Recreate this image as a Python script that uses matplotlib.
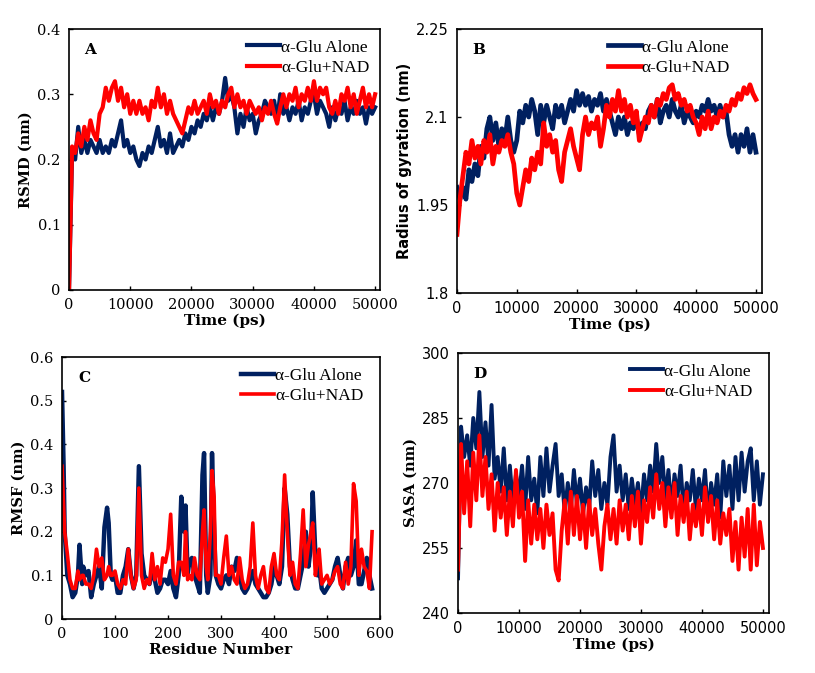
import matplotlib.pyplot as plt
import numpy as np

# time axis (ps) shared by RMSD, Rg and SASA traces
time_ps = np.arange(0, 50001, 500)

rmsd_alone = [0.00, 0.21, 0.20, 0.25, 0.21, 0.23, 0.21, 0.23, 0.22, 0.21,
              0.23, 0.21, 0.22, 0.21, 0.23, 0.22, 0.24, 0.26, 0.22, 0.23,
              0.21, 0.22, 0.20, 0.19, 0.21, 0.20, 0.22, 0.21, 0.23, 0.25,
              0.22, 0.23, 0.21, 0.24, 0.21, 0.22, 0.23, 0.22, 0.24, 0.23,
              0.25, 0.24, 0.26, 0.25, 0.27, 0.26, 0.28, 0.26, 0.28, 0.27,
              0.29, 0.325, 0.29, 0.30, 0.28, 0.24, 0.27, 0.25, 0.28, 0.26,
              0.27, 0.24, 0.26, 0.27, 0.29, 0.28, 0.27, 0.29, 0.26, 0.30,
              0.27, 0.28, 0.26, 0.28, 0.27, 0.29, 0.26, 0.28, 0.27, 0.29,
              0.30, 0.27, 0.29, 0.28, 0.27, 0.25, 0.28, 0.26, 0.28, 0.27,
              0.29, 0.26, 0.28, 0.27, 0.29, 0.27, 0.28, 0.255, 0.28, 0.27,
              0.28]
rmsd_nad = [0.00, 0.22, 0.21, 0.24, 0.22, 0.25, 0.23, 0.26, 0.24, 0.23,
            0.27, 0.28, 0.31, 0.29, 0.31, 0.32, 0.29, 0.31, 0.28, 0.30,
            0.27, 0.29, 0.27, 0.29, 0.27, 0.28, 0.26, 0.29, 0.28, 0.31,
            0.28, 0.30, 0.27, 0.29, 0.27, 0.26, 0.25, 0.24, 0.26, 0.28,
            0.27, 0.29, 0.27, 0.28, 0.29, 0.27, 0.30, 0.28, 0.29, 0.27,
            0.29, 0.28, 0.30, 0.31, 0.28, 0.30, 0.28, 0.29, 0.27, 0.29,
            0.28, 0.27, 0.28, 0.26, 0.28, 0.27, 0.29, 0.27, 0.255, 0.28,
            0.30, 0.28, 0.30, 0.29, 0.31, 0.28, 0.30, 0.29, 0.31, 0.29,
            0.32, 0.29, 0.31, 0.30, 0.31, 0.28, 0.27, 0.29, 0.27, 0.30,
            0.29, 0.31, 0.28, 0.30, 0.27, 0.29, 0.31, 0.28, 0.30, 0.28,
            0.30]

rg_alone = [1.98, 1.96, 1.98, 1.96, 2.01, 1.99, 2.02, 2.00, 2.05, 2.03,
            2.08, 2.10, 2.06, 2.09, 2.05, 2.08, 2.06, 2.10, 2.06, 2.04,
            2.06, 2.11, 2.09, 2.12, 2.10, 2.13, 2.11, 2.07, 2.12, 2.09,
            2.12, 2.10, 2.08, 2.12, 2.10, 2.12, 2.09, 2.11, 2.13, 2.11,
            2.145, 2.12, 2.14, 2.12, 2.135, 2.11, 2.13, 2.12, 2.14, 2.11,
            2.13, 2.11, 2.09, 2.07, 2.10, 2.08, 2.10, 2.07, 2.09, 2.08,
            2.10, 2.07, 2.09, 2.08, 2.11, 2.12, 2.10, 2.13, 2.09, 2.11,
            2.12, 2.10, 2.13, 2.11, 2.10, 2.12, 2.09, 2.11, 2.10, 2.09,
            2.11, 2.10, 2.12, 2.11, 2.13, 2.11, 2.12, 2.10, 2.12, 2.10,
            2.11, 2.07, 2.05, 2.07, 2.04, 2.07, 2.05, 2.08, 2.04, 2.07,
            2.04]
rg_nad = [1.90, 1.96, 2.00, 2.04, 2.02, 2.06, 2.03, 2.05, 2.02, 2.06,
          2.04, 2.07, 2.02, 2.05, 2.04, 2.06, 2.05, 2.07, 2.04, 2.02,
          1.97, 1.95, 1.98, 2.01, 1.99, 2.03, 2.01, 2.04, 2.02, 2.09,
          2.05, 2.07, 2.04, 2.06, 2.01, 1.99, 2.04, 2.06, 2.08, 2.05,
          2.03, 2.01, 2.07, 2.10, 2.07, 2.09, 2.08, 2.10, 2.05, 2.08,
          2.12, 2.10, 2.13, 2.11, 2.145, 2.11, 2.13, 2.10, 2.12, 2.09,
          2.11, 2.06, 2.08, 2.10, 2.09, 2.12, 2.10, 2.13, 2.12, 2.14,
          2.13, 2.15, 2.155, 2.13, 2.14, 2.12, 2.13, 2.11, 2.12, 2.10,
          2.09, 2.07, 2.10, 2.08, 2.11, 2.08, 2.10, 2.09, 2.11, 2.10,
          2.12, 2.11, 2.13, 2.12, 2.14, 2.13, 2.15, 2.14, 2.155, 2.14,
          2.13]

# RMSF per residue
residue = [0, 3, 5, 10, 15, 20, 25, 30, 33, 38, 40, 45, 50, 55, 60, 65, 70,
           75, 80, 85, 88, 92, 95, 100, 105, 110, 115, 120, 125, 130, 135,
           140, 145, 150, 155, 160, 165, 170, 175, 180, 185, 190, 195, 200,
           205, 210, 215, 220, 225, 230, 233, 237, 240, 245, 250, 255, 260,
           265, 268, 272, 275, 280, 283, 287, 290, 295, 300, 305, 310, 315,
           320, 325, 330, 335, 340, 345, 350, 355, 360, 365, 370, 375, 380,
           385, 390, 395, 400, 405, 410, 415, 420, 425, 430, 435, 440, 445,
           450, 455, 460, 465, 470, 473, 478, 482, 485, 490, 495, 500, 505,
           510, 515, 520, 525, 530, 535, 540, 545, 550, 555, 560, 565, 570,
           575, 580, 585]
rmsf_alone = [0.52, 0.35, 0.20, 0.10, 0.08, 0.05, 0.06, 0.10, 0.17, 0.08,
              0.12, 0.10, 0.11, 0.05, 0.08, 0.10, 0.12, 0.07, 0.21, 0.255,
              0.22, 0.10, 0.09, 0.10, 0.06, 0.06, 0.10, 0.12, 0.16, 0.10,
              0.07, 0.10, 0.35, 0.15, 0.10, 0.09, 0.08, 0.11, 0.09, 0.06,
              0.07, 0.09, 0.09, 0.08, 0.11, 0.07, 0.05, 0.10, 0.28, 0.20,
              0.26, 0.10, 0.13, 0.14, 0.10, 0.08, 0.06, 0.33, 0.38, 0.10,
              0.06, 0.10, 0.38, 0.20, 0.10, 0.08, 0.07, 0.09, 0.10, 0.08,
              0.12, 0.11, 0.14, 0.10, 0.07, 0.06, 0.07, 0.09, 0.11, 0.08,
              0.07, 0.06, 0.05, 0.05, 0.06, 0.08, 0.12, 0.10, 0.08, 0.12,
              0.30, 0.24, 0.12, 0.09, 0.07, 0.07, 0.10, 0.13, 0.20, 0.12,
              0.17, 0.29, 0.15, 0.10, 0.12, 0.07, 0.06, 0.07, 0.08, 0.09,
              0.12, 0.14, 0.10, 0.07, 0.12, 0.14, 0.10, 0.12, 0.18, 0.08,
              0.08, 0.11, 0.14, 0.10, 0.07]
rmsf_nad = [0.35, 0.26, 0.20, 0.15, 0.09, 0.07, 0.07, 0.11, 0.09, 0.10,
            0.10, 0.08, 0.08, 0.07, 0.10, 0.16, 0.12, 0.14, 0.09, 0.10,
            0.12, 0.10, 0.10, 0.11, 0.08, 0.07, 0.09, 0.08, 0.16, 0.10,
            0.07, 0.09, 0.30, 0.10, 0.07, 0.09, 0.08, 0.15, 0.09, 0.12,
            0.08, 0.14, 0.13, 0.16, 0.24, 0.10, 0.08, 0.13, 0.13, 0.10,
            0.20, 0.09, 0.10, 0.09, 0.14, 0.10, 0.09, 0.20, 0.25, 0.12,
            0.09, 0.20, 0.34, 0.28, 0.10, 0.10, 0.08, 0.14, 0.19, 0.10,
            0.12, 0.09, 0.08, 0.14, 0.09, 0.07, 0.08, 0.12, 0.22, 0.10,
            0.07, 0.10, 0.12, 0.07, 0.06, 0.12, 0.15, 0.10, 0.09, 0.18,
            0.33, 0.20, 0.10, 0.13, 0.08, 0.07, 0.15, 0.25, 0.12, 0.17,
            0.20, 0.22, 0.10, 0.14, 0.16, 0.08, 0.09, 0.10, 0.08, 0.09,
            0.11, 0.12, 0.08, 0.07, 0.13, 0.08, 0.12, 0.31, 0.27, 0.10,
            0.16, 0.12, 0.11, 0.07, 0.20]

sasa_alone = [248, 283, 276, 281, 274, 285, 278, 291, 276, 284,
              274, 288, 271, 276, 268, 278, 266, 274, 265, 272,
              267, 274, 264, 276, 266, 271, 263, 276, 267, 278,
              268, 274, 279, 267, 272, 263, 270, 264, 273, 265,
              271, 263, 269, 264, 275, 267, 273, 264, 270, 265,
              276, 281, 268, 274, 266, 272, 264, 271, 265, 270,
              263, 272, 266, 274, 268, 279, 270, 276, 266, 273,
              264, 272, 267, 274, 263, 270, 266, 273, 264, 271,
              266, 273, 262, 270, 265, 272, 262, 275, 267, 274,
              264, 276, 266, 277, 268, 275, 278, 266, 275, 265,
              272]
sasa_nad = [250, 279, 263, 275, 260, 277, 266, 281, 267, 276,
            264, 272, 259, 270, 262, 269, 258, 268, 260, 273,
            262, 268, 252, 266, 256, 265, 257, 264, 255, 265,
            258, 263, 250, 247.5, 259, 266, 256, 268, 258, 267,
            257, 265, 255, 266, 258, 264, 256, 250, 260, 265,
            257, 264, 256, 266, 259, 265, 257, 267, 260, 268,
            256, 266, 261, 269, 262, 272, 264, 270, 260, 269,
            262, 270, 258, 267, 261, 268, 257, 265, 260, 266,
            258, 269, 261, 267, 257, 266, 256, 263, 258, 264,
            252, 261, 250, 262, 253, 264, 250, 265, 251, 261,
            255]

navy = '#002060'
red = '#ff0000'
serif = 'DejaVu Serif'
sans = 'DejaVu Sans'

fig = plt.figure(figsize=(8.15, 6.73), dpi=100)

ax_a = fig.add_axes([0.0847, 0.5691, 0.3816, 0.3878])
ax_b = fig.add_axes([0.5607, 0.5646, 0.3742, 0.3923])
ax_c = fig.add_axes([0.0761, 0.0802, 0.3902, 0.3893])
ax_d = fig.add_axes([0.5620, 0.0892, 0.3816, 0.3863])


def style(ax, letter, xlabel, ylabel, tickfont, ylabfont, legloc):
    for s in ax.spines.values():
        s.set_linewidth(1.2)
        s.set_color('black')
    ax.tick_params(direction='in', length=3, width=1, top=False, right=False, pad=6)
    for lab in ax.get_xticklabels() + ax.get_yticklabels():
        lab.set_fontfamily(tickfont)
        lab.set_fontsize(10.5)
    ax.set_xlabel(xlabel, fontfamily=serif, fontweight='bold', fontsize=11, labelpad=1)
    ax.set_ylabel(ylabel, fontfamily=ylabfont, fontweight='bold', fontsize=10.5, labelpad=3)
    ax.text(0.05, 0.92, letter, transform=ax.transAxes, fontfamily=serif,
            fontweight='bold', fontsize=11, va='center')
    ax.legend(loc='upper right', bbox_to_anchor=legloc, frameon=False,
              prop={'family': 'Liberation Serif', 'size': 12.5},
              handlelength=1.9, handletextpad=0.05, labelspacing=0.25,
              borderaxespad=0.2)


# A: RMSD
ax_a.plot(time_ps, rmsd_alone, color=navy, lw=3, label='α-Glu Alone')
ax_a.plot(time_ps, rmsd_nad, color=red, lw=3, label='α-Glu+NAD')
ax_a.set_xlim(0, 50800)
ax_a.set_ylim(0, 0.4)
ax_a.set_xticks([0, 10000, 20000, 30000, 40000, 50000])
ax_a.set_yticks([0, 0.1, 0.2, 0.3, 0.4])
ax_a.set_yticklabels(['0', '0.1', '0.2', '0.3', '0.4'])
style(ax_a, 'A', 'Time (ps)', 'RSMD (nm)', serif, serif, (1.0, 1.0))

# B: radius of gyration
ax_b.plot(time_ps, rg_alone, color=navy, lw=3.4, label='α-Glu Alone')
ax_b.plot(time_ps, rg_nad, color=red, lw=3.4, label='α-Glu+NAD')
ax_b.set_xlim(0, 51000)
ax_b.set_ylim(1.8, 2.25)
ax_b.set_xticks([0, 10000, 20000, 30000, 40000, 50000])
ax_b.set_yticks([1.8, 1.95, 2.1, 2.25])
ax_b.set_yticklabels(['1.8', '1.95', '2.1', '2.25'])
style(ax_b, 'B', 'Time (ps)', 'Radius of gyration (nm)', sans, sans, (0.93, 1.0))

# C: RMSF
ax_c.plot(residue, rmsf_alone, color=navy, lw=3.2, label='α-Glu Alone')
ax_c.plot(residue, rmsf_nad, color=red, lw=2.6, label='α-Glu+NAD')
ax_c.set_xlim(0, 600)
ax_c.set_ylim(0, 0.6)
ax_c.set_xticks([0, 100, 200, 300, 400, 500, 600])
ax_c.set_yticks([0, 0.1, 0.2, 0.3, 0.4, 0.5, 0.6])
ax_c.set_yticklabels(['0', '0.1', '0.2', '0.3', '0.4', '0.5', '0.6'])
style(ax_c, 'C', 'Residue Number', 'RMSF (nm)', serif, serif, (0.98, 1.0))

# D: SASA
ax_d.plot(time_ps, sasa_alone, color=navy, lw=2.8, label='α-Glu Alone')
ax_d.plot(time_ps, sasa_nad, color=red, lw=2.8, label='α-Glu+NAD')
ax_d.set_xlim(0, 51000)
ax_d.set_ylim(240, 300)
ax_d.set_xticks([0, 10000, 20000, 30000, 40000, 50000])
ax_d.set_yticks([240, 255, 270, 285, 300])
style(ax_d, 'D', 'Time (ps)', 'SASA (nm)', sans, serif, (0.98, 1.0))

plt.savefig('out.png', dpi=100)
